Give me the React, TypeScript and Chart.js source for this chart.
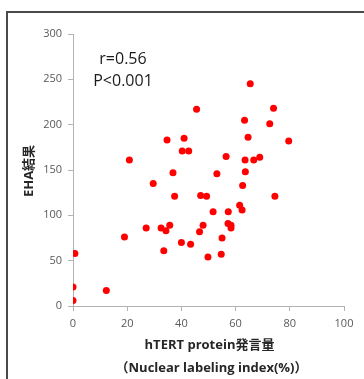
import React, { useEffect, useRef } from "react";
import { Chart, registerables } from "chart.js";

Chart.register(...registerables);

// hTERT protein expression (Nuclear labeling index %)
const xValues: number[] = [0, 0, 0.7, 12.3, 19, 20.8, 27, 29.6, 32.5, 33.5, 34.3, 34.7, 35.7, 36.9, 37.5, 40, 40.3, 41, 42.7, 43.4, 45.6, 46.7, 47.1, 48, 49.3, 49.8, 51.7, 53.1, 55, 54.7, 56.5, 57.2, 57.3, 58.3, 58.3, 61.5, 62.4, 62.6, 63.3, 63.5, 63.6, 64.6, 65.4, 66.7, 68.9, 72.6, 74, 74.5, 79.6];
// EHA result
const yValues: number[] = [6, 21, 58, 17, 76, 161, 86, 135, 86, 61, 83, 183, 89, 147, 121, 70, 171, 185, 171, 68, 217, 82, 122, 89, 121, 54, 104, 146, 75, 57, 165, 91, 104, 89, 86, 111, 106, 133, 205, 161, 148, 186, 245, 161, 164, 201, 218, 121, 182];

const xTitleLines: string[] = ["hTERT protein発言量", "（Nuclear labeling index(%)）"];
const yTitle = "EHA結果";
const annotationLines: string[] = ["r=0.56", "P<0.001"];

const FONT = "'Open Sans', 'Noto Sans CJK JP', sans-serif";

const textPlugin = {
  id: "textPlugin",
  afterDraw(chart: any) {
    const ctx = chart.ctx as CanvasRenderingContext2D;
    const area = chart.chartArea;
    ctx.save();
    // y title
    ctx.fillStyle = "#262626";
    ctx.font = `bold 13px ${FONT}`;
    ctx.textAlign = "center";
    ctx.textBaseline = "middle";
    ctx.save();
    ctx.translate(29, (area.top + area.bottom) / 2 + 1);
    ctx.rotate(-Math.PI / 2);
    ctx.fillText(yTitle, 0, 0);
    ctx.restore();
    // x title
    const cx = (area.left + area.right) / 2;
    ctx.fillText(xTitleLines[0], cx + 1, 345);
    ctx.fillText(xTitleLines[1], cx + 3, 368);
    // annotation
    ctx.fillStyle = "#1a1a1a";
    ctx.font = `16px ${FONT}`;
    ctx.textBaseline = "alphabetic";
    ctx.fillText(annotationLines[0], 123, 64);
    ctx.fillText(annotationLines[1], 123, 86);
    ctx.restore();
  },
};

export default function App() {
  const canvasRef = useRef<HTMLCanvasElement | null>(null);

  useEffect(() => {
    if (!canvasRef.current) return;
    const points = xValues.map((x, i) => ({ x, y: yValues[i] }));
    const axisColor = "#b3b3b3";
    const chart = new Chart(canvasRef.current, {
      type: "scatter",
      data: {
        datasets: [
          {
            data: points,
            backgroundColor: "#ff0000",
            borderColor: "#ff0000",
            borderWidth: 0,
            pointRadius: 3.5,
            pointHoverRadius: 3.5,
          },
        ],
      },
      options: {
        animation: false,
        responsive: false,
        events: [],
        layout: { padding: { left: 0, top: 34, right: 20, bottom: 0 } },
        plugins: {
          legend: { display: false },
          tooltip: { enabled: false },
          title: { display: false },
        },
        scales: {
          x: {
            type: "linear",
            min: 0,
            max: 100,
            ticks: {
              stepSize: 20,
              padding: 6,
              color: "#595959",
              font: { family: FONT, size: 11 },
              maxRotation: 0,
            },
            grid: {
              drawOnChartArea: false,
              drawTicks: true,
              tickLength: 5,
              color: axisColor,
            },
            border: { display: true, color: axisColor },
            afterFit: (s: any) => {
              s.height = 73;
              s.paddingLeft = 0;
              s.paddingRight = 0;
            },
          },
          y: {
            type: "linear",
            min: 0,
            max: 300,
            ticks: {
              stepSize: 50,
              padding: 6,
              color: "#595959",
              font: { family: FONT, size: 11 },
            },
            grid: {
              drawOnChartArea: false,
              drawTicks: true,
              tickLength: 5,
              color: axisColor,
            },
            border: { display: true, color: axisColor },
            afterFit: (s: any) => {
              s.width = 73;
              s.paddingTop = 0;
              s.paddingBottom = 0;
            },
          },
        },
      },
      plugins: [textPlugin],
    });
    return () => chart.destroy();
  }, []);

  return (
    <div
      style={{
        position: "fixed",
        left: 0,
        top: 0,
        width: 364,
        height: 379,
        overflow: "hidden",
        background: "#ffffff",
      }}
    >
      <div
        style={{
          position: "absolute",
          left: 6,
          top: 11,
          width: 420,
          height: 420,
          borderLeft: "2px solid #4a4a4a",
          borderTop: "2px solid #4a4a4a",
        }}
      />
      <canvas
        ref={canvasRef}
        width={364}
        height={379}
        style={{ position: "absolute", left: 0, top: 0, width: 364, height: 379 }}
      />
    </div>
  );
}
